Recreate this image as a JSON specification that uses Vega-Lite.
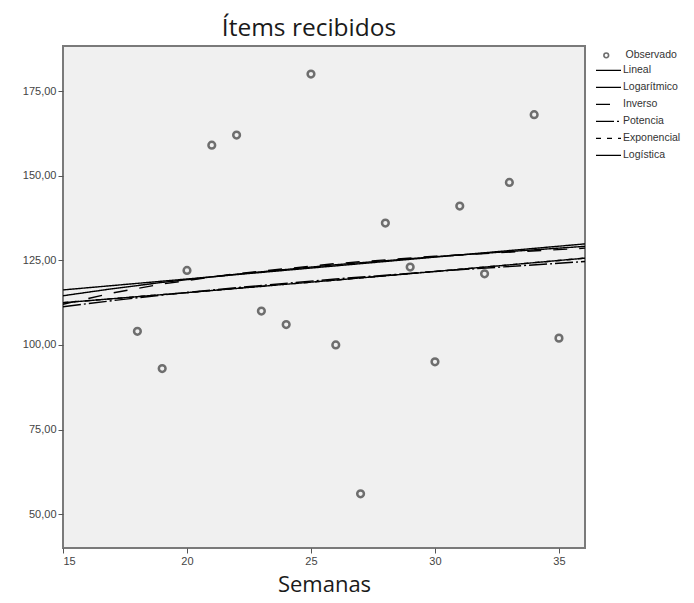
{
  "$schema": "https://vega.github.io/schema/vega-lite/v6.json",
  "width": 522,
  "height": 502,
  "autosize": "none",
  "padding": {"left": 63, "top": 46, "right": 109, "bottom": 55},
  "background": "white",
  "title": {
    "text": "Ítems recibidos",
    "font": "Open Sans",
    "fontSize": 24.5,
    "fontWeight": "normal",
    "color": "#1a1a1a",
    "anchor": "middle",
    "dx": -15,
    "offset": 5
  },
  "config": {
    "view": {"fill": "#f0f0f0", "stroke": "#7a7a7a", "strokeWidth": 2},
    "axis": {
      "domain": false,
      "grid": false,
      "tickColor": "#555555",
      "tickSize": 5,
      "tickWidth": 1,
      "labelFont": "Liberation Sans",
      "labelFontSize": 11,
      "labelColor": "#444444",
      "labelPadding": 2
    },
    "legend": {
      "labelFont": "Liberation Sans",
      "labelFontSize": 10.5,
      "labelColor": "#333333",
      "padding": 0,
      "rowPadding": 0,
      "titleFontSize": 0
    }
  },
  "datasets": {
    "observado": [
      {"semana": 18, "items": 104},
      {"semana": 19, "items": 93},
      {"semana": 20, "items": 122},
      {"semana": 21, "items": 159},
      {"semana": 22, "items": 162},
      {"semana": 23, "items": 110},
      {"semana": 24, "items": 106},
      {"semana": 25, "items": 180},
      {"semana": 26, "items": 100},
      {"semana": 27, "items": 56},
      {"semana": 28, "items": 136},
      {"semana": 29, "items": 123},
      {"semana": 30, "items": 95},
      {"semana": 31, "items": 141},
      {"semana": 32, "items": 121},
      {"semana": 33, "items": 148},
      {"semana": 34, "items": 168},
      {"semana": 35, "items": 102}
    ],
    "ajustes": [
      {"modelo": "Lineal", "semana": 15, "valor": 116.24},
      {"modelo": "Lineal", "semana": 26.5, "valor": 123.67},
      {"modelo": "Lineal", "semana": 36.05, "valor": 129.84},
      {"modelo": "Logarítmico", "semana": 15, "valor": 114.52},
      {"modelo": "Logarítmico", "semana": 17, "valor": 116.6},
      {"modelo": "Logarítmico", "semana": 19, "valor": 118.46},
      {"modelo": "Logarítmico", "semana": 22, "valor": 120.9},
      {"modelo": "Logarítmico", "semana": 26, "valor": 123.68},
      {"modelo": "Logarítmico", "semana": 30, "valor": 126.06},
      {"modelo": "Logarítmico", "semana": 36.05, "valor": 129.12},
      {"modelo": "Inverso", "semana": 15, "valor": 112.01},
      {"modelo": "Inverso", "semana": 17, "valor": 115.35},
      {"modelo": "Inverso", "semana": 19, "valor": 117.99},
      {"modelo": "Inverso", "semana": 22, "valor": 121.04},
      {"modelo": "Inverso", "semana": 26, "valor": 124.02},
      {"modelo": "Inverso", "semana": 30, "valor": 126.2},
      {"modelo": "Inverso", "semana": 36.05, "valor": 128.59},
      {"modelo": "Potencia", "semana": 15, "valor": 111.28},
      {"modelo": "Potencia", "semana": 17, "valor": 113.09},
      {"modelo": "Potencia", "semana": 19, "valor": 114.73},
      {"modelo": "Potencia", "semana": 22, "valor": 116.92},
      {"modelo": "Potencia", "semana": 26, "valor": 119.48},
      {"modelo": "Potencia", "semana": 30, "valor": 121.71},
      {"modelo": "Potencia", "semana": 36.05, "valor": 124.63},
      {"modelo": "Exponencial", "semana": 15, "valor": 112.46},
      {"modelo": "Exponencial", "semana": 17, "valor": 113.65},
      {"modelo": "Exponencial", "semana": 19, "valor": 114.85},
      {"modelo": "Exponencial", "semana": 22, "valor": 116.68},
      {"modelo": "Exponencial", "semana": 26, "valor": 119.15},
      {"modelo": "Exponencial", "semana": 30, "valor": 121.68},
      {"modelo": "Exponencial", "semana": 36.05, "valor": 125.63},
      {"modelo": "Logística", "semana": 15, "valor": 112.46},
      {"modelo": "Logística", "semana": 17, "valor": 113.65},
      {"modelo": "Logística", "semana": 19, "valor": 114.85},
      {"modelo": "Logística", "semana": 22, "valor": 116.68},
      {"modelo": "Logística", "semana": 26, "valor": 119.15},
      {"modelo": "Logística", "semana": 30, "valor": 121.68},
      {"modelo": "Logística", "semana": 36.05, "valor": 125.63}
    ]
  },
  "encoding": {
    "x": {
      "type": "quantitative",
      "scale": {"domain": [15, 36.05], "nice": false, "zero": false},
      "axis": {
        "values": [15, 20, 25, 30, 35],
        "title": "Semanas",
        "titleFont": "Open Sans",
        "titleFontSize": 22,
        "titleFontWeight": "normal",
        "titleColor": "#1a1a1a",
        "titlePadding": 8
      }
    },
    "y": {
      "type": "quantitative",
      "scale": {"domain": [40, 188.3], "nice": false, "zero": false},
      "axis": {
        "values": [50, 75, 100, 125, 150, 175],
        "title": null,
        "labelExpr": "replace(format(datum.value, '.2f'), '.', ',')"
      }
    }
  },
  "layer": [
    {
      "data": {"name": "ajustes"},
      "mark": {"type": "line", "color": "black", "strokeWidth": 1.4, "clip": true},
      "encoding": {
        "x": {"field": "semana", "type": "quantitative"},
        "y": {"field": "valor", "type": "quantitative"},
        "strokeDash": {
          "field": "modelo",
          "type": "nominal",
          "scale": {
            "domain": ["Lineal", "Logarítmico", "Inverso", "Potencia", "Exponencial", "Logística"],
            "range": [[1, 0], [1, 0], [14, 12], [18, 3, 2, 3], [5, 6], [1, 0]]
          },
          "legend": {
            "title": null,
            "orient": "none",
            "legendX": 532,
            "legendY": 16,
            "symbolType": "stroke",
            "symbolSize": 625,
            "symbolStrokeColor": "black",
            "symbolStrokeWidth": 1.4,
            "clipHeight": 16.7,
            "labelOffset": 1
          }
        }
      }
    },
    {
      "data": {"name": "observado"},
      "mark": {"type": "point", "filled": false, "size": 45, "strokeWidth": 2.5, "color": "#6e6e6e", "opacity": 1},
      "encoding": {
        "x": {"field": "semana", "type": "quantitative"},
        "y": {"field": "items", "type": "quantitative"},
        "shape": {
          "datum": "Observado",
          "scale": {"range": ["circle"]},
          "legend": {
            "title": null,
            "orient": "none",
            "legendX": 538,
            "legendY": 1,
            "symbolSize": 22,
            "symbolStrokeColor": "#6e6e6e",
            "symbolStrokeWidth": 1.6,
            "symbolFillColor": "transparent",
            "clipHeight": 16.7,
            "labelOffset": 14
          }
        }
      }
    }
  ]
}
